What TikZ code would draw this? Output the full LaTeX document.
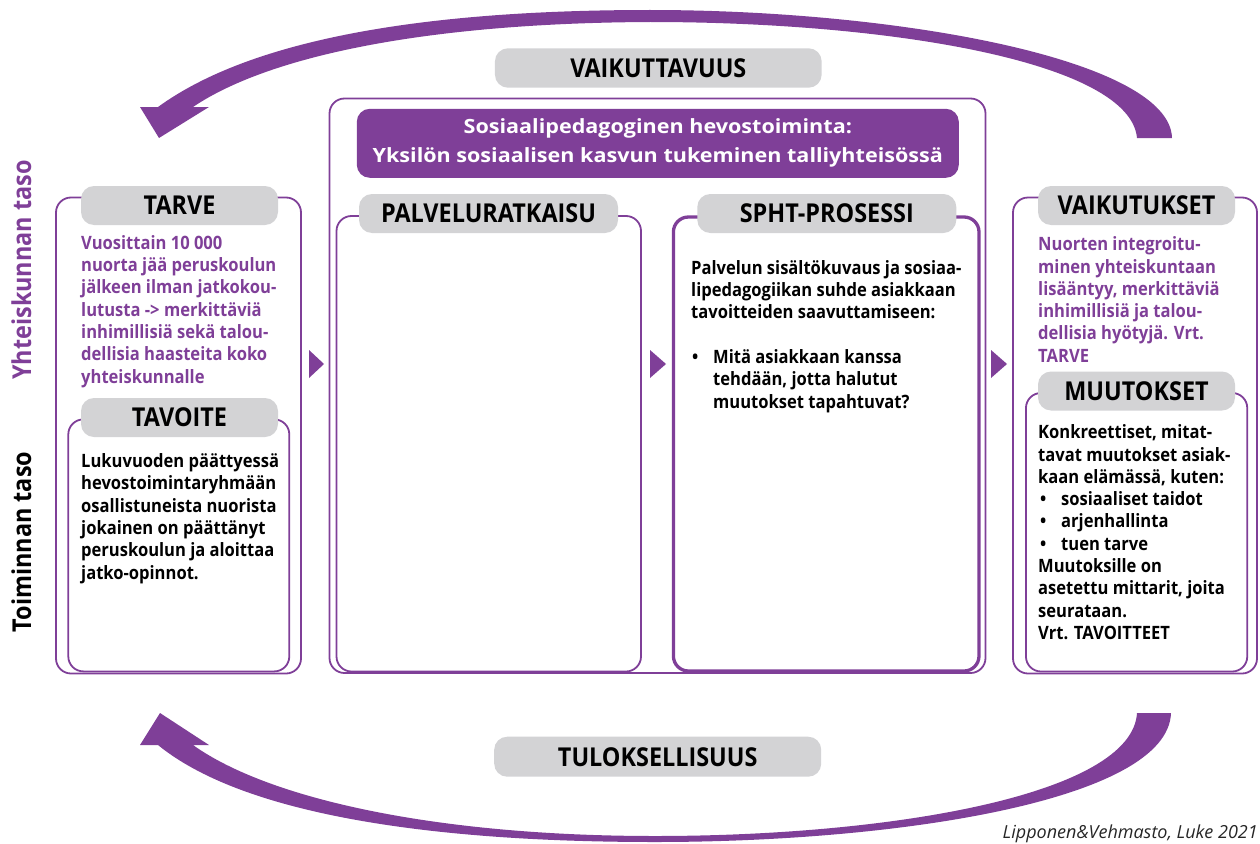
\documentclass[tikz,border=0pt]{standalone}
\usepackage{fontspec}
\setmainfont{Open Sans}
\newfontfamily\narrowfam{Open Sans}[FakeStretch=0.9]
\newfontfamily\widefam{Open Sans}[FakeStretch=1.1]
\definecolor{pur}{RGB}{127,63,152}
\definecolor{taggray}{RGB}{211,211,213}
\newcommand\topstrut{\rule{0pt}{16pt}}
\newcommand\titlestrut{\rule{0pt}{22pt}}
\begin{document}
\begin{tikzpicture}[x=1pt,y=-1pt,
  frame/.style={draw=pur,line width=1.8pt,rounded corners=15pt,inner sep=0pt},
  boldframe/.style={draw=pur,line width=3.3pt,rounded corners=15pt,inner sep=0pt},
  tag/.style={fill=taggray,rounded corners=13pt,inner sep=0pt,text=black,
    font=\narrowfam\bfseries\fontsize{26}{30}\selectfont},
  body/.style={anchor=north west,inner sep=0pt,align=left,
    font=\narrowfam\bfseries\fontsize{18.4}{22.3}\selectfont},
  side/.style={rotate=90,anchor=base,inner sep=0pt,
    font=\narrowfam\bfseries\fontsize{26}{30}\selectfont},
  band/.style={fill=pur},
  pointer/.style={fill=pur}
]
\useasboundingbox (0,0) rectangle (1260,843);

% curved arrows
\path[band] (1172,138) .. controls (1170,60) and (900,10) .. (650,10)
  .. controls (420,10) and (250,40) .. (158,107) -- (140,107) -- (159,138) -- (209,107) -- (193,107)
  .. controls (270,55) and (430,23) .. (650,22)
  .. controls (890,22) and (1130,62) .. (1137,138) -- cycle;
\path[band] (1171,713) .. controls (1168,800) and (900,842) .. (655,842)
  .. controls (420,842) and (240,812) .. (158,745) -- (140,745) -- (160,713) -- (209,745) -- (193,745)
  .. controls (270,800) and (440,836) .. (655,836)
  .. controls (890,836) and (1132,795) .. (1137,713) -- cycle;

% frames
\node[frame,minimum width=656pt,minimum height=574.5pt] (bigbox) at (657.5,385.75) {};
\node[frame,minimum width=245pt,minimum height=476pt] (tarvebox) at (178.5,435.5) {};
\node[frame,minimum width=221pt,minimum height=252pt] (tavoitebox) at (178.8,545.4) {};
\node[frame,minimum width=304.5pt,minimum height=455.5pt] (palvbox) at (488.75,443.75) {};
\node[boldframe,minimum width=305.6pt,minimum height=454pt] (sphtbox) at (826.2,444) {};
\node[frame,minimum width=244pt,minimum height=476pt] (vaikbox) at (1135,435.5) {};
\node[frame,minimum width=221.3pt,minimum height=278.5pt] (muutbox) at (1136.6,532.25) {};

% title
\node[fill=pur,rounded corners=13pt,minimum width=602pt,minimum height=69pt,inner sep=0pt] (titlebox) at (657.8,143.3) {};
\node[anchor=north,inner sep=0pt,align=center,text=white,
  font=\widefam\bfseries\fontsize{19.6}{28.8}\selectfont] (titletext) at (657.8,111.5)
  {\titlestrut Sosiaalipedagoginen hevostoiminta:\\Yksilön sosiaalisen kasvun tukeminen talliyhteisössä};

% tags
\node[tag,minimum width=326.7pt,minimum height=39.4pt] (vaikuttavuus) at (658.3,68) {VAIKUTTAVUUS};
\node[tag,minimum width=327pt,minimum height=40pt] (tuloksellisuus) at (657.7,756.7) {TULOKSELLISUUS};
\node[tag,minimum width=197pt,minimum height=39pt] (tarve) at (179.5,205.5) {TARVE};
\node[tag,minimum width=197pt,minimum height=39pt] (tavoite) at (179.5,417.5) {TAVOITE};
\node[tag,minimum width=259pt,minimum height=39pt] (palv) at (488.5,213.5) {PALVELURATKAISU};
\node[tag,minimum width=259pt,minimum height=39pt] (spht) at (826.8,213.5) {SPHT-PROSESSI};
\node[tag,minimum width=197pt,minimum height=39pt] (vaik) at (1136.5,205.5) {VAIKUTUKSET};
\node[tag,minimum width=197pt,minimum height=39pt] (muut) at (1136.5,391) {MUUTOKSET};

% texts
\node[body,text=pur] (tarvetext) at (81,233)
  {\topstrut Vuosittain 10 000\\nuorta jää peruskoulun\\jälkeen ilman jatkokou-\\lutusta -> merkittäviä\\inhimillisiä sekä talou-\\dellisia haasteita koko\\yhteiskunnalle};
\node[body] (tavoitetext) at (81,451.3)
  {\topstrut Lukuvuoden päättyessä\\hevostoimintaryhmään\\osallistuneista nuorista\\jokainen on päättänyt\\peruskoulun ja aloittaa\\jatko-opinnot.};
\node[body] (sphttext) at (691,258)
  {\topstrut Palvelun sisältökuvaus ja sosiaa-\\lipedagogiikan suhde asiakkaan\\tavoitteiden saavuttamiseen:};
\node[body] (sphtlist) at (691,347.3)
  {\topstrut\makebox[22pt][l]{\hspace{1pt}•}Mitä asiakkaan kanssa\\\hspace*{22pt}tehdään, jotta halutut\\\hspace*{22pt}muutokset tapahtuvat?};
\node[body,text=pur] (vaiktext) at (1038,234.5)
  {\topstrut Nuorten integroitu-\\minen yhteiskuntaan\\lisääntyy, merkittäviä\\inhimillisiä ja talou-\\dellisia hyötyjä. Vrt.\\TARVE};
\node[body] (muuttext) at (1038,422.5)
  {\topstrut Konkreettiset, mitat-\\tavat muutokset asiak-\\kaan elämässä, kuten:\\
   \makebox[23pt][l]{\hspace{2pt}•}sosiaaliset taidot\\
   \makebox[23pt][l]{\hspace{2pt}•}arjenhallinta\\
   \makebox[23pt][l]{\hspace{2pt}•}tuen tarve\\
   Muutoksille on\\asetettu mittarit, joita\\seurataan.\\Vrt. TAVOITTEET};

% small pointers between columns
\path[pointer] (309,350) -- (324,364) -- (309,378) -- cycle;
\path[pointer] (650,350) -- (666,364) -- (650,378) -- cycle;
\path[pointer] (991,350) -- (1007,364) -- (991,378) -- cycle;

% side labels
\node[side,text=pur] (societal) at (31,270) {Yhteiskunnan taso};
\node[side,text=black] (operational) at (31,542) {Toiminnan taso};

% credit
\node[anchor=base east,inner sep=0pt,font=\itshape\fontsize{18}{21}\selectfont,text=black!85] (credit) at (1258,838)
  {Lipponen\&Vehmasto, Luke 2021};
\end{tikzpicture}
\end{document}
